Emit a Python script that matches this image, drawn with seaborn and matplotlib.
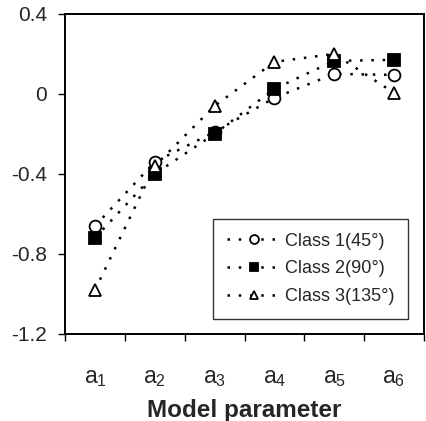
import matplotlib
matplotlib.use("Agg")
import matplotlib.pyplot as plt
import seaborn as sns
import pandas as pd
import numpy as np

categories = ["a$_1$", "a$_2$", "a$_3$", "a$_4$", "a$_5$", "a$_6$"]
class1 = [-0.66, -0.34, -0.19, -0.02, 0.10, 0.095]
class2 = [-0.72, -0.40, -0.20, 0.025, 0.165, 0.17]
class3 = [-0.98, -0.36, -0.06, 0.16, 0.20, 0.005]
labels = ["Class 1(45°)", "Class 2(90°)", "Class 3(135°)"]
yticks = [-1.2, -0.8, -0.4, 0, 0.4]
ytick_labels = ["-1.2", "-0.8", "-0.4", "0", "0.4"]

sns.set_style("white")
plt.rcParams["font.family"] = ["Liberation Sans", "DejaVu Sans"]
plt.rcParams["mathtext.fontset"] = "custom"
plt.rcParams["mathtext.rm"] = "Liberation Sans"
plt.rcParams["mathtext.it"] = "Liberation Sans"

rows = []
for lab, vals in zip(labels, [class1, class2, class3]):
    for i, v in enumerate(vals):
        rows.append({"pos": i, "value": v, "series": lab})
df = pd.DataFrame(rows)

fig = plt.figure(figsize=(4.26, 4.21), dpi=100)
ax = fig.add_axes([0.153, 0.207, 0.842, 0.760])

styles = {
    labels[0]: dict(marker="o", markerfacecolor="white", markersize=8.5),
    labels[1]: dict(marker="s", markerfacecolor="black", markersize=8.5),
    labels[2]: dict(marker="^", markerfacecolor="white", markersize=8),
}
for lab in labels:
    sub = df[df["series"] == lab]
    sns.lineplot(data=sub, x="pos", y="value", ax=ax, color="black",
                 linestyle=(0, (1, 3.5)), linewidth=1.8,
                 markeredgecolor="black", markeredgewidth=1.3,
                 label=lab, **styles[lab])

ax.set_xlim(-0.5, 5.5)
ax.set_ylim(-1.2, 0.4)
ax.set_yticks(yticks)
ax.set_yticklabels(ytick_labels, fontsize=15)
ax.set_xticks(np.arange(-0.5, 6.0, 1.0))
ax.set_xticklabels([])
ax.set_xticks(np.arange(6), minor=True)
ax.set_xticklabels(categories, minor=True, fontsize=16.5)
ax.tick_params(axis="x", which="major", direction="out", length=5, width=1, color="black", bottom=True)
ax.tick_params(axis="x", which="minor", length=0, pad=23, bottom=True)
ax.tick_params(axis="y", direction="out", length=5, width=1, color="black", left=True, pad=8)
for s in ax.spines.values():
    s.set_color("black")
    s.set_linewidth(1.4)

ax.set_xlabel("Model parameter", fontsize=17.5, fontweight="bold", labelpad=7)
ax.set_ylabel("")

leg = ax.legend(loc="lower right", bbox_to_anchor=(0.955, 0.047), fontsize=13,
                frameon=True, fancybox=False, handlelength=3.0, borderpad=0.75,
                labelspacing=0.6, handletextpad=0.2, borderaxespad=0.0,
                markerscale=0.75)
leg.get_frame().set_edgecolor("black")
leg.get_frame().set_linewidth(1.0)

fig.savefig("out.png", dpi=100)
